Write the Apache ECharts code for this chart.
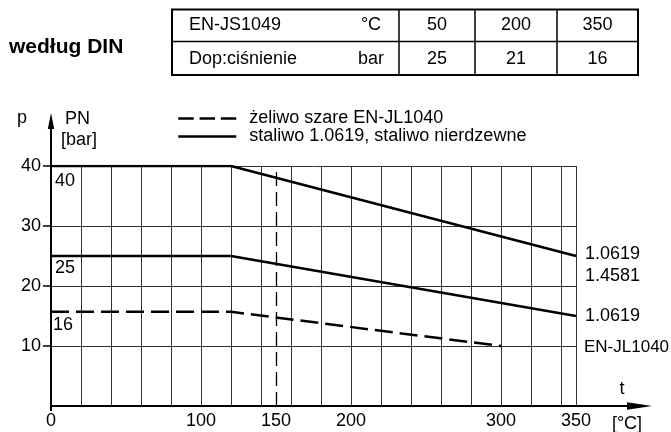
<!DOCTYPE html>
<html><head><meta charset="utf-8">
<script src="https://cdn.jsdelivr.net/npm/echarts@6/dist/echarts.min.js"></script>
<style>html,body{margin:0;padding:0;background:#fff}#c{width:671px;height:432px}</style>
</head><body><div id="c"></div>
<script>
const FONT = '"Liberation Sans", Arial, sans-serif';

// ---- table data ----
const tableTitle = 'według DIN';
const tableRowLabels = ['EN-JS1049', 'Dop:ciśnienie'];
const tableUnits = ['°C', 'bar'];
const tableTemps = [50, 200, 350];
const tablePressures = [25, 21, 16];

// ---- curve data ----
const steelTemps = [0, 120, 350];
const steelPN40 = [40, 40, 25];
const steelPN25 = [25, 25, 15];
const ironTemps = [0, 120, 300];
const ironPN16 = [15.7, 15.7, 10];
const markerTemp = 150;

// ---- labels ----
const xLabelValues = [0, 100, 150, 200, 300, 350];
const yLabelValues = [10, 20, 30, 40];
const pnLabels = ['40', '25', '16'];
const endLabels = ['1.0619', '1.4581', '1.0619', 'EN-JL1040'];
const legendNames = ['żeliwo szare EN-JL1040', 'staliwo 1.0619, staliwo nierdzewne'];
const yAxisTitle = ['p', 'PN', '[bar]'];
const xAxisTitle = ['t', '[°C]'];

const pairs = (xs, ys) => xs.map((x, i) => [x, ys[i]]);

const chart = echarts.init(document.getElementById('c'), null, {renderer: 'canvas'});
const hiddenSymbol = {opacity: 0, color: 'transparent', borderWidth: 0};
const option = {
  animation: false,
  backgroundColor: '#fff',
  textStyle: {fontFamily: FONT},
  grid: {left: 51, top: 166, width: 525, height: 240, containLabel: false},
  legend: {
    orient: 'vertical', left: 172, top: 104.5,
    itemWidth: 58, itemHeight: 16, itemGap: 0,
    selectedMode: false,
    itemStyle: hiddenSymbol,
    textStyle: {fontSize: 18, color: '#000', fontFamily: FONT, lineHeight: 16, padding: [0, 0, 0, 8]},
    data: [
      {name: legendNames[0], itemStyle: hiddenSymbol, lineStyle: {type: [15.5, 5.8], width: 2.5, color: '#000'}},
      {name: legendNames[1], itemStyle: hiddenSymbol, lineStyle: {width: 2.5, color: '#000'}}
    ]
  },
  xAxis: {
    type: 'value', min: 0, max: 350, interval: 20,
    axisLine: {lineStyle: {color: '#000', width: 2}},
    axisTick: {show: false},
    axisLabel: {customValues: xLabelValues, color: '#000', fontSize: 18, margin: 6, fontFamily: FONT},
    splitLine: {show: true, lineStyle: {color: '#333', width: 1}}
  },
  yAxis: {
    type: 'value', min: 0, max: 40, interval: 5,
    axisLine: {show: true, lineStyle: {color: '#000', width: 2}},
    axisTick: {show: true, customValues: yLabelValues, length: 8, lineStyle: {color: '#000', width: 1.5}},
    axisLabel: {customValues: yLabelValues, color: '#000', fontSize: 18, margin: 10, fontFamily: FONT},
    splitLine: {show: true, lineStyle: {color: '#333', width: 1}}
  },
  series: [
    {
      type: 'line', name: legendNames[0], data: pairs(ironTemps, ironPN16),
      symbol: 'none', color: '#000', z: 5,
      lineStyle: {color: '#000', width: 2.5, type: [18, 7]},
      markLine: {
        silent: true, symbol: 'none', label: {show: false},
        lineStyle: {color: '#000', width: 1.3, type: [14, 6]},
        data: [{xAxis: markerTemp}]
      }
    },
    {
      type: 'line', name: legendNames[1], data: pairs(steelTemps, steelPN40),
      symbol: 'none', color: '#000', z: 5, lineStyle: {color: '#000', width: 2.5}
    },
    {
      type: 'line', name: legendNames[1], data: pairs(steelTemps, steelPN25),
      symbol: 'none', color: '#000', z: 5, lineStyle: {color: '#000', width: 2.5}
    }
  ]
};
chart.setOption(option);

const px = (x, y) => chart.convertToPixel({gridIndex: 0}, [x, y]);
const T = (x, y, text, opt) => ({
  type: 'text', x: x, y: y, z: 10,
  style: Object.assign({text: text, font: '18px ' + FONT, fill: '#000', align: 'left', verticalAlign: 'middle'}, opt || {})
});
const L = (x1, y1, x2, y2, w) => ({type: 'line', z: 10, shape: {x1: x1, y1: y1, x2: x2, y2: y2}, style: {stroke: '#000', lineWidth: w}});

const g = [];
// title + table
g.push(T(9, 47, tableTitle, {font: 'bold 21px ' + FONT}));
const tL = 172, tR = 638, tT = 9.5, tM = 41.5, tB = 75;
const colX = [399, 475, 557];
g.push({type: 'rect', z: 10, shape: {x: tL, y: tT, width: tR - tL, height: tB - tT}, style: {fill: 'none', stroke: '#000', lineWidth: 2}});
g.push(L(tL, tM, tR, tM, 1.5));
colX.forEach(cx => g.push(L(cx, tT, cx, tB, 1.5)));
const rowY = [25.5, 59];
g.push(T(189, rowY[0], tableRowLabels[0]));
g.push(T(189, rowY[1], tableRowLabels[1]));
g.push(T(371, rowY[0], tableUnits[0], {align: 'center'}));
g.push(T(371, rowY[1], tableUnits[1], {align: 'center'}));
const colEdges = colX.concat([tR]);
tableTemps.forEach((v, i) => {
  const cx = (colEdges[i] + colEdges[i + 1]) / 2;
  g.push(T(cx, rowY[0], String(v), {align: 'center'}));
  g.push(T(cx, rowY[1], String(tablePressures[i]), {align: 'center'}));
});

// axis extensions and arrows
const o = px(0, 0), xEnd = px(350, 0);
g.push(L(o[0], o[1] + 5, o[0], 127, 2));
g.push({type: 'polygon', z: 10, shape: {points: [[o[0], 113], [o[0] - 3.2, 129], [o[0] + 3.2, 129]]}, style: {fill: '#000'}});
g.push(L(xEnd[0], o[1], 630, o[1], 2));
g.push({type: 'polygon', z: 10, shape: {points: [[652, o[1]], [627, o[1] - 3.8], [627, o[1] + 3.8]]}, style: {fill: '#000'}});

// axis titles
g.push(T(22, 118, yAxisTitle[0], {align: 'center'}));
g.push(T(65, 119, yAxisTitle[1]));
g.push(T(61, 140, yAxisTitle[2]));
g.push(T(622, 389, xAxisTitle[0], {align: 'center'}));
g.push(T(627, 424, xAxisTitle[1], {align: 'center'}));

// PN labels under curve starts
const p40 = px(steelTemps[0], steelPN40[0]);
const p25 = px(steelTemps[0], steelPN25[0]);
const p16 = px(ironTemps[0], ironPN16[0]);
g.push(T(p40[0] + 4, p40[1] + 15, pnLabels[0]));
g.push(T(p25[0] + 4, p25[1] + 12, pnLabels[1]));
g.push(T(p16[0] + 2, p16[1] + 13, pnLabels[2]));

// end labels
const e40 = px(steelTemps[2], steelPN40[2]);
const e25 = px(steelTemps[2], steelPN25[2]);
const e16 = px(350, ironPN16[2]);
g.push(T(e40[0] + 9, e40[1] - 2, endLabels[0]));
g.push(T(e40[0] + 9, e40[1] + 20, endLabels[1]));
g.push(T(e25[0] + 9, e25[1], endLabels[2]));
g.push(T(e16[0] + 8, e16[1] + 1, endLabels[3], {font: '17px ' + FONT}));

chart.setOption({graphic: g});
</script>
</body></html>
